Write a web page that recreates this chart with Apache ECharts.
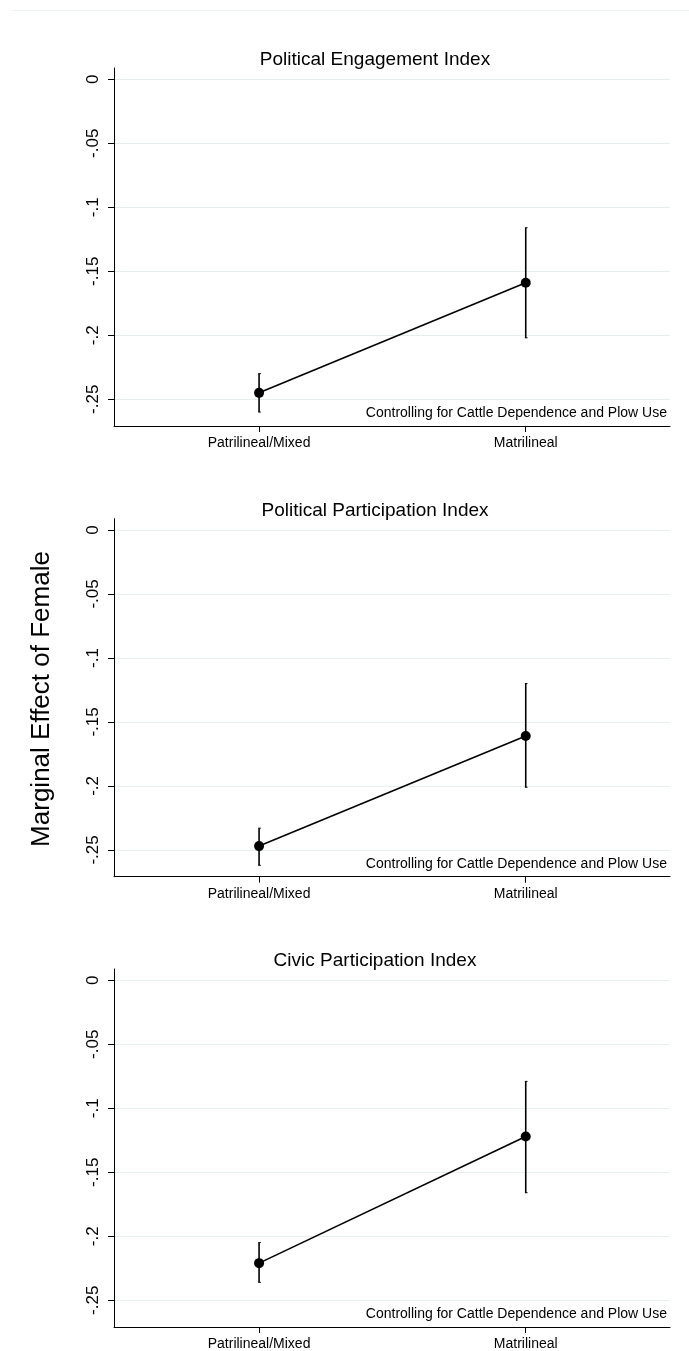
<!DOCTYPE html>
<html>
<head>
<meta charset="utf-8">
<script src="https://cdn.jsdelivr.net/npm/echarts@6/dist/echarts.min.js"></script>
<style>
html,body{margin:0;padding:0;background:#fff;}
#chart{width:689px;height:1351px;}
</style>
</head>
<body>
<div id="chart"></div>
<script>
// ---- data ----
const categories = ['Patrilineal/Mixed', 'Matrilineal'];
const panelTitles = ['Political Engagement Index', 'Political Participation Index', 'Civic Participation Index'];
const noteText = 'Controlling for Cattle Dependence and Plow Use';
const yAxisTitle = 'Marginal Effect of Female';
const yTickValues = [0, -0.05, -0.1, -0.15, -0.2, -0.25];
const yTickLabels = ['0', '-.05', '-.1', '-.15', '-.2', '-.25'];

const engagementEst = [-0.245, -0.159];
const engagementLo  = [-0.260, -0.202];
const engagementHi  = [-0.230, -0.116];

const politicalEst = [-0.247, -0.161];
const politicalLo  = [-0.262, -0.201];
const politicalHi  = [-0.233, -0.120];

const civicEst = [-0.221, -0.122];
const civicLo  = [-0.236, -0.166];
const civicHi  = [-0.205, -0.079];

const panels = [
  {est: engagementEst, lo: engagementLo, hi: engagementHi},
  {est: politicalEst, lo: politicalLo, hi: politicalHi},
  {est: civicEst, lo: civicLo, hi: civicHi}
];

// ---- layout ----
const FONT = 'Liberation Sans, Arial, Helvetica, sans-serif';
const gridTops = [68, 518.7, 969];
const gridH = 358;
const gridLeft = 114, gridRight = 19;
const yMin = -0.2709, yMax = 0.0088;
const xMin = -0.544, xMax = 1.541;
const gridColor = '#e6eef0';

const grids = [], xAxes = [], yAxes = [], series = [], graphics = [];

panels.forEach((p, i) => {
  grids.push({left: gridLeft, right: gridRight, top: gridTops[i], height: gridH});
  xAxes.push({
    type: 'value', gridIndex: i, min: xMin, max: xMax,
    axisLine: {show: true, onZero: false, lineStyle: {color: '#000', width: 1}},
    axisTick: {show: true, length: 6, customValues: [0, 1], lineStyle: {color: '#000'}},
    axisLabel: {customValues: [0, 1], margin: 10, color: '#000', fontSize: 14, fontFamily: FONT,
      formatter: v => categories[Math.round(v)]},
    splitLine: {show: false}
  });
  yAxes.push({
    type: 'value', gridIndex: i, min: yMin, max: yMax,
    axisLine: {show: true, onZero: false, lineStyle: {color: '#000', width: 1}},
    axisTick: {show: true, length: 6, customValues: yTickValues, lineStyle: {color: '#000'}},
    axisLabel: {customValues: yTickValues, rotate: 90, margin: 12, color: '#000', fontSize: 17, fontFamily: FONT,
      formatter: v => { const k = yTickValues.findIndex(t => Math.abs(t - v) < 1e-9); return k >= 0 ? yTickLabels[k] : ''; }},
    splitLine: {show: true, lineStyle: {color: gridColor, width: 1.2}}
  });
  const ciData = categories.map((c, k) => [k, p.lo[k], p.hi[k]]);
  series.push({
    type: 'custom', xAxisIndex: i, yAxisIndex: i, z: 3,
    data: ciData,
    encode: {x: 0, y: [1, 2]},
    renderItem: (params, api) => {
      const a = api.coord([api.value(0), api.value(1)]);
      const b = api.coord([api.value(0), api.value(2)]);
      return {type: 'group', children: [
        {type: 'line', shape: {x1: a[0], y1: a[1], x2: b[0], y2: b[1]}, style: {stroke: '#000', lineWidth: 1.6}},
        {type: 'line', shape: {x1: a[0] - 0.8, y1: a[1], x2: a[0] + 1.8, y2: a[1]}, style: {stroke: '#000', lineWidth: 1}},
        {type: 'line', shape: {x1: b[0] - 0.8, y1: b[1], x2: b[0] + 1.8, y2: b[1]}, style: {stroke: '#000', lineWidth: 1}}
      ]};
    }
  });
  series.push({
    type: 'line', xAxisIndex: i, yAxisIndex: i, z: 4,
    data: categories.map((c, k) => [k, p.est[k]]),
    symbol: 'circle', symbolSize: 10,
    itemStyle: {color: '#000'},
    lineStyle: {color: '#000', width: 1.6},
    animation: false
  });
  graphics.push({
    type: 'text', x: 375, y: gridTops[i] - 8,
    style: {text: panelTitles[i], fill: '#000', font: '19px ' + FONT, textAlign: 'center', textVerticalAlign: 'middle'}
  });
  graphics.push({
    type: 'text', x: 667, y: gridTops[i] + gridH - 12.4,
    style: {text: noteText, fill: '#000', font: '14px ' + FONT, textAlign: 'right', textVerticalAlign: 'middle'}
  });
});

graphics.push({
  type: 'text', x: 42, y: 699, rotation: Math.PI / 2,
  style: {text: yAxisTitle, fill: '#000', font: '26px ' + FONT, textAlign: 'center', textVerticalAlign: 'middle'}
});
graphics.push({
  type: 'line', shape: {x1: 11, y1: 10.5, x2: 689, y2: 10.5},
  style: {stroke: '#eef3f4', lineWidth: 1}
});

const chart = echarts.init(document.getElementById('chart'), null, {renderer: 'canvas'});
chart.setOption({
  animation: false,
  backgroundColor: '#fff',
  grid: grids, xAxis: xAxes, yAxis: yAxes, series: series, graphic: graphics
});
</script>
</body>
</html>
